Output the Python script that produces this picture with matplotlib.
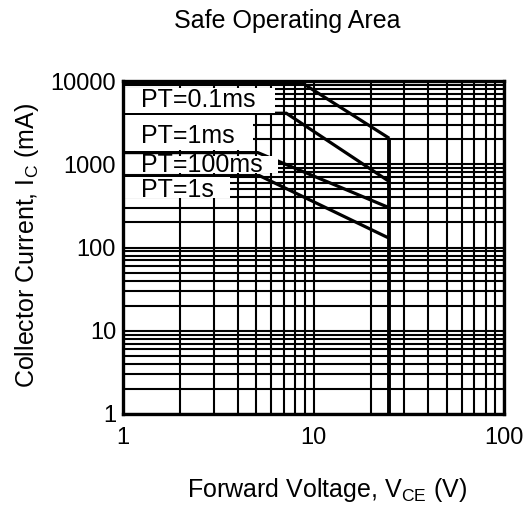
import numpy as np
import matplotlib
matplotlib.use("Agg")
import matplotlib.pyplot as plt
from matplotlib.patches import Rectangle
from matplotlib.ticker import LogLocator, FixedLocator, FixedFormatter, NullFormatter

plt.rcParams['font.family'] = ['Liberation Sans', 'DejaVu Sans']

# pulse curves: (V, I) corner points
pt_labels = ["PT=0.1ms", "PT=1ms", "PT=100ms", "PT=1s"]
curve_v = [
    [1, 8.7, 25],
    [1, 7.2, 25],
    [1, 5.1, 25],
    [1, 5.2, 25],
]
curve_i = [
    [9500, 9500, 2050],
    [4100, 4100, 620],
    [1380, 1380, 300],
    [730, 730, 129],
]
v_max = 25          # vertical limit line
v_ticks = [1, 10, 100]
i_ticks = [1, 10, 100, 1000, 10000]

W, H = 525, 509
fig = plt.figure(figsize=(W / 100, H / 100), dpi=100)
ax = fig.add_axes([123 / W, 1 - 414 / H, (504 - 123) / W, (414 - 81) / H])
ax.set_xscale('log')
ax.set_yscale('log')
ax.set_xlim(1, 100)
ax.set_ylim(1, 10000)

# grid, black lines on every decade subdivision
ax.xaxis.set_major_locator(FixedLocator(v_ticks))
ax.xaxis.set_major_formatter(FixedFormatter([str(v) for v in v_ticks]))
ax.yaxis.set_major_locator(FixedLocator(i_ticks))
ax.yaxis.set_major_formatter(FixedFormatter([str(v) for v in i_ticks]))
ax.xaxis.set_minor_locator(LogLocator(base=10, subs=np.arange(2, 10)))
ax.yaxis.set_minor_locator(LogLocator(base=10, subs=np.arange(2, 10)))
ax.xaxis.set_minor_formatter(NullFormatter())
ax.yaxis.set_minor_formatter(NullFormatter())
ax.grid(True, which='both', color='black', linewidth=1.5)
ax.set_axisbelow(True)
ax.tick_params(which='both', length=0, labelsize=17)
ax.tick_params(axis='x', pad=9)
ax.tick_params(axis='y', pad=5)
for s in ax.spines.values():
    s.set_linewidth(2.4)
    s.set_zorder(5)

# white boxes behind the labels (axes fraction)
boxes = [(0.399, 0.904, 0.979), (0.341, 0.793, 0.898),
         (0.407, 0.724, 0.775), (0.281, 0.649, 0.712)]
label_y = [0.921, 0.815, 0.728, 0.653]

for vs, cs in zip(curve_v, curve_i):
    ax.plot(vs, cs, color='black', linewidth=2.3, zorder=3,
            solid_joinstyle='miter', solid_capstyle='butt')
ax.plot([v_max, v_max], [1, max(c[-1] for c in curve_i)], color='black',
        linewidth=2.8, zorder=3, solid_capstyle='butt')

for (x1, y0, y1), lab, ly in zip(boxes, pt_labels, label_y):
    ax.add_patch(Rectangle((0, y0), x1, y1 - y0, transform=ax.transAxes,
                           facecolor='white', edgecolor='none', zorder=4))
    ax.text(0.047, ly, lab, transform=ax.transAxes, fontsize=18,
            ha='left', va='baseline', zorder=4.5)

fig.text(287.5 / W, 1 - 28.3 / H, "Safe Operating Area", fontsize=18,
         ha='center', va='baseline')
fig.text(327.5 / W, 1 - 496.7 / H, r"Forward Voltage, V$_\mathregular{CE}$ (V)",
         fontsize=18, ha='center', va='baseline')
fig.text(27 / W, 1 - 245 / H, r"Collector Current, I$_\mathregular{C}$ (mA)",
         fontsize=18, ha='center', va='center', rotation=90)

fig.savefig("out.png", dpi=100, facecolor='white')
